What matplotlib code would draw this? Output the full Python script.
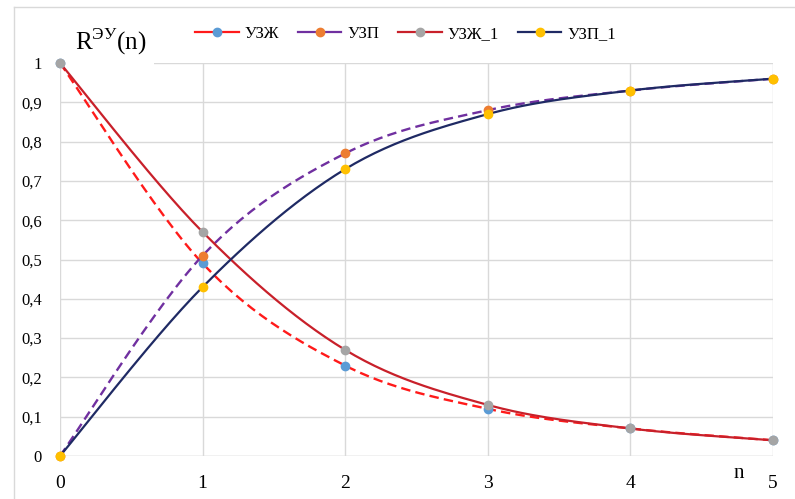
import numpy as np
import matplotlib
matplotlib.use('Agg')
import matplotlib.pyplot as plt
from matplotlib.lines import Line2D
from matplotlib.patches import Rectangle

plt.rcParams['font.family'] = ['Liberation Serif', 'DejaVu Serif']
plt.rcParams['mathtext.fontset'] = 'custom'
plt.rcParams['mathtext.rm'] = 'Liberation Serif'

# data
n = [0, 1, 2, 3, 4, 5]
uzzh = [1.0, 0.49, 0.23, 0.12, 0.07, 0.04]
uzp = [0.0, 0.51, 0.77, 0.88, 0.93, 0.96]
uzzh_1 = [1.0, 0.57, 0.27, 0.13, 0.07, 0.04]
uzp_1 = [0.0, 0.43, 0.73, 0.87, 0.93, 0.96]
labels = ['УЗЖ', 'УЗП', 'УЗЖ_1', 'УЗП_1']
y_ticks = [0, 0.1, 0.2, 0.3, 0.4, 0.5, 0.6, 0.7, 0.8, 0.9, 1]
y_tick_labels = ['0', '0,1', '0,2', '0,3', '0,4', '0,5', '0,6', '0,7', '0,8', '0,9', '1']


def smooth(x, y, steps=30):
    """Excel-style smoothed line (Bezier with Catmull-Rom control points)"""
    p = np.column_stack([x, y]).astype(float)
    m = len(p)
    out = []
    for i in range(m - 1):
        p0 = p[max(i - 1, 0)]
        p1 = p[i]
        p2 = p[i + 1]
        p3 = p[min(i + 2, m - 1)]
        c1 = p1 + (p2 - p0) / 6
        c2 = p2 - (p3 - p1) / 6
        t = np.linspace(0, 1, steps)[:, None]
        seg = ((1 - t) ** 3 * p1 + 3 * (1 - t) ** 2 * t * c1
               + 3 * (1 - t) * t ** 2 * c2 + t ** 3 * p2)
        out.append(seg if i == 0 else seg[1:])
    out = np.vstack(out)
    return out[:, 0], out[:, 1]


fig = plt.figure(figsize=(7.95, 4.99), dpi=100)
ax = fig.add_axes([60 / 795, 1 - 456 / 499, 713 / 795, 393 / 499])

# chart frame (left and top edges only are visible)
fig.lines.append(Line2D([14 / 795, 14 / 795], [0, 1 - 7 / 499],
                        transform=fig.transFigure, color='#D9D9D9', linewidth=1))
fig.lines.append(Line2D([14 / 795, 1], [1 - 7 / 499, 1 - 7 / 499],
                        transform=fig.transFigure, color='#D9D9D9', linewidth=1))

series = [
    (uzzh, '#FF1A1A', '--', '#5B9BD5'),
    (uzp, '#7030A0', '--', '#ED7D31'),
    (uzzh_1, '#C8202A', '-', '#A5A5A5'),
    (uzp_1, '#1F2A64', '-', '#FFC000'),
]

handles = []
for (vals, color, ls, mcolor), lab in zip(series, labels):
    sx, sy = smooth(n, vals)
    if ls == '--':
        ax.plot(sx, sy, color=color, linewidth=1.7, dashes=(4, 2.2), zorder=3, clip_on=False)
    else:
        ax.plot(sx, sy, color=color, linewidth=1.6, zorder=3, clip_on=False)
    ax.plot(n, vals, linestyle='none', marker='o', markersize=6,
            color=mcolor, zorder=4, clip_on=False)
    handles.append(Line2D([0], [0], color=color, linewidth=1.6, marker='o',
                          markersize=6, markerfacecolor=mcolor,
                          markeredgecolor=mcolor))

ax.set_xlim(0, 5)
ax.set_ylim(0, 1)
ax.set_xticks(n)
ax.set_xticklabels([str(v) for v in n], fontsize=14)
ax.set_yticks(y_ticks)
ax.set_yticklabels(y_tick_labels, fontsize=12)
ax.tick_params(axis='both', length=0)
ax.tick_params(axis='y', pad=13)
ax.tick_params(axis='x', pad=14)
ax.grid(True, color='#D9D9D9', linewidth=1)
ax.set_axisbelow(True)
for s in ax.spines.values():
    s.set_visible(False)
ax.axhline(0, color='#D9D9D9', linewidth=1, zorder=0.6)

# white box behind the axis title that hides the top grid line
ax.add_patch(Rectangle((-0.02, 0.985), 0.68, 0.03, facecolor='white',
                       edgecolor='none', zorder=1, clip_on=False))

fig.text(75 / 795, 1 - 42 / 499, r'R$^{\rm ЭУ}$(n)', fontsize=18,
         ha='left', va='center')
fig.text(739 / 795, 1 - 474 / 499, 'n', fontsize=15, ha='center', va='center')

fig.legend(handles, labels, loc='center', bbox_to_anchor=(0.51, 1 - 34 / 499),
           ncol=4, frameon=False, fontsize=12, handlelength=2.6,
           columnspacing=1.15, handletextpad=0.35)

fig.savefig('out.png', dpi=100)
